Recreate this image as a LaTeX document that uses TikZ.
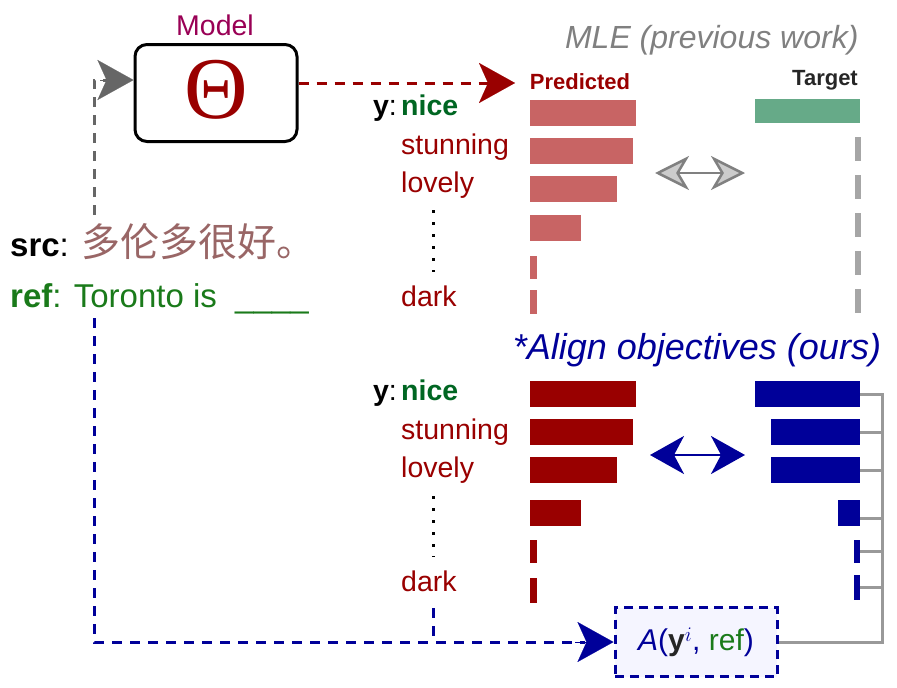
\documentclass[tikz,border=0pt]{standalone}
\usepackage{fontspec}
\setmainfont{Liberation Sans}
\newfontfamily\cjk{Noto Sans CJK SC}
\newfontfamily\serifx{Liberation Serif}
\usetikzlibrary{arrows.meta}
\definecolor{dred}{HTML}{990000}
\definecolor{lred}{HTML}{C86464}
\definecolor{dblue}{HTML}{000099}
\definecolor{dgreen}{HTML}{006622}
\definecolor{tgreen}{HTML}{66AA88}
\definecolor{mpurp}{HTML}{990055}
\definecolor{brn}{HTML}{996666}
\definecolor{gtext}{HTML}{1A7A1A}
\tikzset{
 fs/.style={font=\fontsize{#1}{#1}\selectfont},
 word/.style={fs=28.5, text=dred, anchor=base west, inner sep=0},
 big/.style={-{Stealth[length=36pt,width=40pt,inset=9pt]}},
 dl/.style={line width=3pt,dash pattern=on 10pt off 8pt},
}
\begin{document}
\begin{tikzpicture}[x=1pt,y=-1pt]
\useasboundingbox (0,0) rectangle (897,688);
% model
\node[fs=28.5,text=mpurp] (ml) at (215,25) {Model};
\node[draw,line width=3pt,rounded corners=12pt,minimum width=162pt,minimum height=97pt] (box) at (216,93) {};
\node[text=dred,font=\serifx\fontsize{88}{88}\selectfont] (th) at (216,90) {Θ};
% src/ref
\node[fs=33,anchor=base west,inner sep=0] (src) at (10,256) {\textbf{src}: \textcolor{brn}{\cjk\fontsize{39}{39}\selectfont 多伦多很好。}};
\node[fs=33,anchor=base west,inner sep=0,text=gtext] (ref) at (10,307) {\textbf{ref}: Toronto is\ \ \_\_\_\_};
\coordinate (g1) at (94,215);
\coordinate (g2) at (94,80);
\draw[gray!80!black,dl] (g1) -- (g2) -- (112,80);
\draw[gray!80!black,line width=0.1pt,big] (100,80) -- (box.west |- g2);
% red dashed
\coordinate (pr) at (515,83);
\draw[dred,dl] (box.east |- pr) -- (490,83);
\draw[dred,line width=0.1pt,big] (480,83) -- (pr);
% top labels
\node[text=gray,font=\itshape\fontsize{32}{32}\selectfont,anchor=east] (mle) at (862,40) {MLE (previous work)};
\node[text=dred,font=\bfseries\fontsize{22}{22}\selectfont] (pl) at (580,82) {Predicted};
\node[font=\bfseries\fontsize{22}{22}\selectfont,text=black!85] (tl) at (825,80) {Target};
% top words
\node[fs=28.5,anchor=base east,inner sep=0] (y1) at (397,115) {\textbf{y}:};
\node[word,text=dgreen,font=\bfseries\fontsize{28.5}{28.5}\selectfont] (n1) at (401,115) {nice};
\node[word] (s1) at (401,154) {stunning};
\node[word] (l1) at (401,192) {lovely};
\node[word] (d1) at (401,306) {dark};
\draw[line width=3pt,dash pattern=on 3pt off 9pt] (433,210) -- (433,272);
% top bars
\foreach \yy/\xx in {113/636,151/633,189/617,228/581}{\fill[lred] (530,\yy-13) rectangle (\xx,\yy+13);}
\fill[lred] (530,256) rectangle (537,279);
\fill[lred] (530,290) rectangle (537,314);
\fill[tgreen] (755,99) rectangle (860,123);
\draw[gray!70,line width=6pt,dash pattern=on 24pt off 14pt] (858,137) -- (858,318);
\draw[gray,line width=2.5pt,{Stealth[length=34pt,width=34pt,inset=10pt,fill=gray!40]}-{Stealth[length=34pt,width=34pt,inset=10pt,fill=gray!40]}] (655,173) -- (745,173);
% align
\node[text=dblue,font=\itshape\fontsize{36}{36}\selectfont] (al) at (697,350) {*Align objectives (ours)};
\node[fs=28.5,anchor=base east,inner sep=0] (y2) at (397,400) {\textbf{y}:};
\node[word,text=dgreen,font=\bfseries\fontsize{28.5}{28.5}\selectfont] (n2) at (401,400) {nice};
\node[word] (s2) at (401,439) {stunning};
\node[word] (l2) at (401,477) {lovely};
\node[word] (d2) at (401,591) {dark};
\draw[line width=3pt,dash pattern=on 3pt off 9pt] (433,496) -- (433,557);
\foreach \yy/\xx in {394/636,432/633,470/617,513/581}{\fill[dred] (530,\yy-13) rectangle (\xx,\yy+13);}
\fill[dred] (530,540) rectangle (537,563);
\fill[dred] (530,578) rectangle (537,603);
\foreach \yy/\xx in {394/755,432/771,470/771,513/838}{\fill[dblue] (\xx,\yy-13) rectangle (860,\yy+13);}
\fill[dblue] (854,540) rectangle (860,563);
\fill[dblue] (854,575) rectangle (860,600);
\draw[dblue,line width=2.5pt,{Stealth[length=34pt,width=38pt,inset=10pt]}-{Stealth[length=34pt,width=38pt,inset=10pt]}] (650,455) -- (745,455);
% A box
\node[draw=dblue,fill=blue!4,line width=3pt,dash pattern=on 9pt off 6pt,minimum width=162pt,minimum height=69pt,fs=30,text=dblue] (A) at (696,642) {\textit{A}(\textcolor{black!85}{\textbf{y}}$^{i}$, \textcolor{gtext}{ref})};
\draw[gray!80,line width=3pt] (A.east) -| (882,394) -- (860,394);
\foreach \yy in {432,470,518,551,587}{\draw[gray!80,line width=3pt] (860,\yy) -- (882,\yy);}
% blue dashed
\coordinate (b1) at (94,318);
\coordinate (b2) at (433,608);
\draw[dblue,dl] (b1) |- (585,642);
\draw[dblue,dl] (b2) -- (b2 |- A.west);
\draw[dblue,line width=0.1pt,big] (575,642) -- (A.west);
\end{tikzpicture}
\end{document}
